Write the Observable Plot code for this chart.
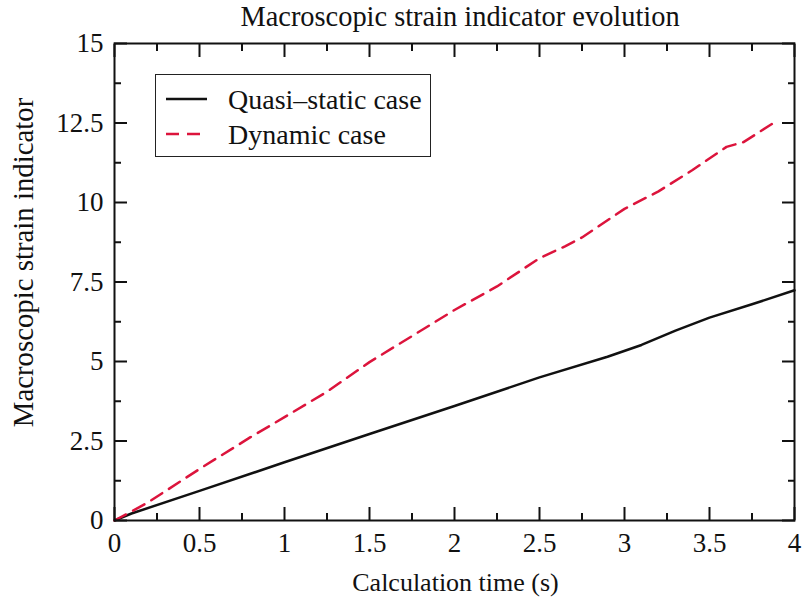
<!DOCTYPE html>
<html><head><meta charset="utf-8">
<script src="https://cdn.jsdelivr.net/npm/d3@7"></script>
<script src="https://cdn.jsdelivr.net/npm/@observablehq/plot@0.6"></script>
<style>
body{margin:0;background:#fff;}
#wrap{position:relative;width:803px;height:605px;font-family:"Liberation Serif","DejaVu Serif",serif;}
#legend{position:absolute;left:155px;top:74px;width:276px;height:83px;box-sizing:border-box;border:1.5px solid #222;background:#fff;}
#legend svg{position:absolute;left:0;top:0;}
</style></head><body><div id="wrap"><div id="legend"></div></div>
<script>
const quasiTime   = [0, 0.1, 0.5, 1, 1.5, 2, 2.5, 2.9, 3.1, 3.3, 3.5, 3.75, 4];
const quasiStrain = [0, 0.22, 0.93, 1.83, 2.72, 3.6, 4.5, 5.15, 5.52, 5.97, 6.38, 6.8, 7.24];
const dynTime   = [0, 0.1, 0.2, 0.5, 0.8, 1, 1.25, 1.5, 1.75, 2, 2.25, 2.5, 2.65, 2.75, 3, 3.2, 3.4, 3.6, 3.7, 3.9];
const dynStrain = [0, 0.28, 0.58, 1.62, 2.62, 3.25, 4.05, 4.98, 5.8, 6.62, 7.36, 8.25, 8.62, 8.9, 9.8, 10.35, 11.02, 11.75, 11.9, 12.58];
const xMajor = [0, 0.5, 1, 1.5, 2, 2.5, 3, 3.5, 4];
const xMinor = [0.25, 0.75, 1.25, 1.75, 2.25, 2.75, 3.25, 3.75];
const yMajor = [0, 2.5, 5, 7.5, 10, 12.5, 15];
const yMinor = [1.25, 3.75, 6.25, 8.75, 11.25, 13.75];
const seriesNames = ["Quasi\u2013static case", "Dynamic case"];
const seriesColors = ["#111111", "#dc143c"];
const seriesDash = [null, "13,8"];
const titleText = "Macroscopic strain indicator evolution";
const xLabel = "Calculation time (s)";
const yLabel = "Macroscopic strain indicator";

const quasi = quasiTime.map((t, i) => ({t, v: quasiStrain[i]}));
const dyn = dynTime.map((t, i) => ({t, v: dynStrain[i]}));
const FONT = "Liberation Serif";
const FS = 27;

const tickOpts = {stroke: "#111", strokeWidth: 2, label: null};
const chart = Plot.plot({
  width: 803, height: 605,
  marginLeft: 114, marginRight: 9, marginTop: 43, marginBottom: 85,
  style: {fontFamily: FONT, fontSize: FS + "px", color: "#111", background: "white", overflow: "visible"},
  x: {domain: [0, 4]},
  y: {domain: [0, 15]},
  marks: [
    Plot.line(quasi, {x: "t", y: "v", stroke: seriesColors[0], strokeWidth: 2.5}),
    Plot.line(dyn, {x: "t", y: "v", stroke: seriesColors[1], strokeWidth: 2.5, strokeDasharray: seriesDash[1]}),
    Plot.axisX(xMajor, {anchor: "bottom", tickSize: -13, tickFormat: () => "", ...tickOpts}),
    Plot.axisX(xMinor, {anchor: "bottom", tickSize: -7, tickFormat: () => "", ...tickOpts}),
    Plot.axisX(xMajor, {anchor: "top", tickSize: -13, tickFormat: () => "", ...tickOpts}),
    Plot.axisX(xMinor, {anchor: "top", tickSize: -7, tickFormat: () => "", ...tickOpts}),
    Plot.axisY(yMajor, {anchor: "left", tickSize: -13, tickFormat: () => "", ...tickOpts}),
    Plot.axisY(yMinor, {anchor: "left", tickSize: -7, tickFormat: () => "", ...tickOpts}),
    Plot.axisY(yMajor, {anchor: "right", tickSize: -13, tickFormat: () => "", ...tickOpts}),
    Plot.axisY(yMinor, {anchor: "right", tickSize: -7, tickFormat: () => "", ...tickOpts}),
    Plot.axisX(xMajor, {anchor: "bottom", tickSize: 0, tickPadding: 12, tickFormat: d => String(d), fontSize: FS, label: null}),
    Plot.axisY(yMajor, {anchor: "left", tickSize: 0, tickPadding: 11, tickFormat: d => String(d), fontSize: FS, label: null}),
    Plot.frame({stroke: "#111", strokeWidth: 2}),
    Plot.text([titleText], {frameAnchor: "top", textAnchor: "middle", lineAnchor: "middle", dy: -26.5, dx: 5.5, fontSize: 28.4, fill: "#111"}),
    Plot.text([xLabel], {frameAnchor: "bottom", textAnchor: "middle", lineAnchor: "middle", dy: 62, dx: 1, fontSize: 26, fill: "#111"}),
    Plot.text([yLabel], {frameAnchor: "left", textAnchor: "middle", lineAnchor: "middle", dx: -91, dy: -19.5, rotate: -90, fontSize: 28.8, fill: "#111"})
  ]
});
document.getElementById("wrap").prepend(chart);

// legend
const lg = d3.select("#legend").append("svg").attr("width", 276).attr("height", 83)
  .style("font-family", FONT).style("font-size", "28px");
seriesNames.forEach((name, i) => {
  const y = 24 + i * 35;
  lg.append("line").attr("x1", 10).attr("x2", 51).attr("y1", y).attr("y2", y)
    .attr("stroke", seriesColors[i]).attr("stroke-width", 2.5)
    .attr("stroke-dasharray", seriesDash[i] || null);
  lg.append("text").attr("x", 72).attr("y", y).attr("dy", "0.35em").attr("fill", "#111").text(name);
});
</script></body></html>
